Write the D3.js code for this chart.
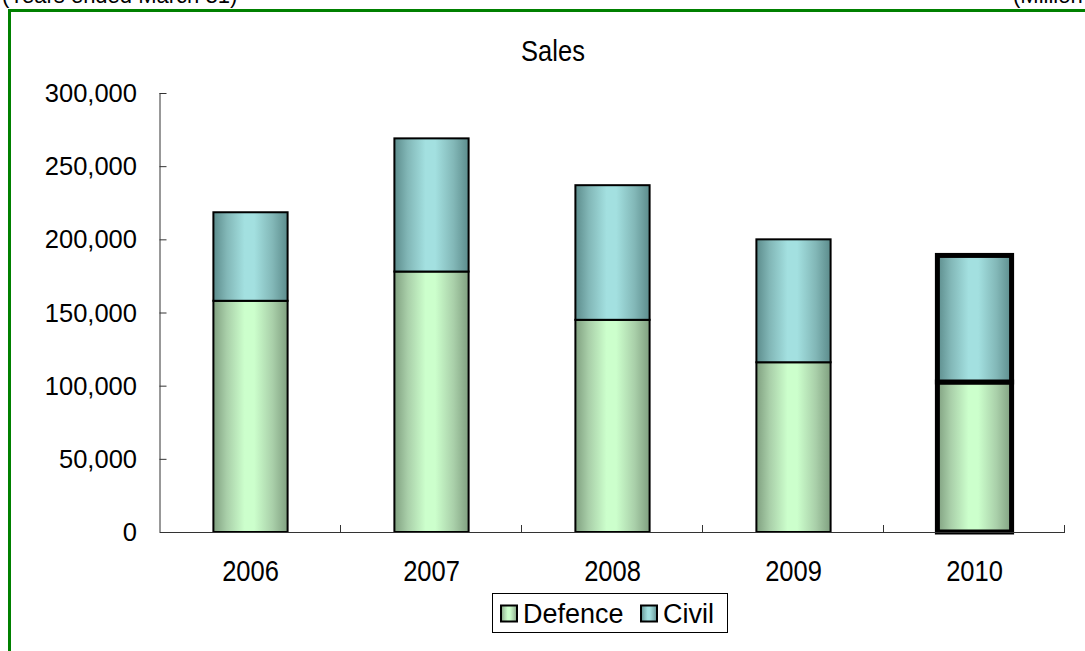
<!DOCTYPE html>
<html>
<head>
<meta charset="utf-8">
<script src="https://cdn.jsdelivr.net/npm/d3@7"></script>
<style>
  html, body { margin: 0; padding: 0; background: #fff; }
  svg { display: block; }
  text { font-family: "Liberation Sans", Arial, sans-serif; fill: #000; }
</style>
</head>
<body>
<svg id="chart" width="1085" height="651"></svg>
<script>
// Fiscal years and sales split (million yen)
const years = ["2006", "2007", "2008", "2009", "2010"];
const defence = [158000, 178000, 145000, 116000, 102500];
const civil = [60500, 91000, 92000, 84000, 86500];
const yTicks = [0, 50000, 100000, 150000, 200000, 250000, 300000];
const seriesNames = ["Defence", "Civil"];
const highlightYear = "2010";

const svg = d3.select("#chart");

// Colour ramps for the cylinder-like bar shading
const defs = svg.append("defs");
function shade(id, dark, mid, light) {
  const g = defs.append("linearGradient").attr("id", id)
    .attr("x1", "0%").attr("x2", "100%").attr("y1", "0%").attr("y2", "0%");
  [[0, dark], [0.18, mid], [0.42, light], [0.55, light], [0.8, mid], [1, dark]]
    .forEach(([o, c]) => g.append("stop").attr("offset", o).attr("stop-color", c));
}
shade("gDef", "#80a080", "#a9cfa9", "#ccffcc");
shade("gCiv", "#5c8c8c", "#82b7b7", "#a3e0e0");
const fills = { Defence: "url(#gDef)", Civil: "url(#gCiv)" };

// Headers above the frame
svg.append("text").attr("x", 2).attr("y", 3).style("font-size", "22px")
  .text("(Years ended March 31)");
svg.append("text").attr("x", 1013).attr("y", 3).style("font-size", "22px")
  .text("(Million yen)");

// Green outer frame
svg.append("rect").attr("x", 9.5).attr("y", 10.5).attr("width", 1200).attr("height", 800)
  .attr("fill", "none").attr("stroke", "#008000").attr("stroke-width", 3);

// Plot geometry
const x0 = 160, x1 = 1065, yTop = 93, yBot = 532;
const x = d3.scaleBand().domain(years).range([x0, x1]).padding(0);
const y = d3.scaleLinear().domain([0, 300000]).range([yBot, yTop]);
const barW = x.bandwidth() * 0.41;

// Text drawn slightly tall, as in the chart's stretched layout
function tallText(g, tx, ty, str, size, sy) {
  return g.append("text")
    .attr("transform", `translate(${tx},${ty}) scale(1,${sy})`)
    .attr("text-anchor", "middle").style("font-size", size + "px").text(str);
}

// Title
tallText(svg, 553, 61, "Sales", 25.5, 1.15);

// Stacked data
const rows = years.map((yr, i) => ({ year: yr, Defence: defence[i], Civil: civil[i] }));
const stacked = d3.stack().keys(seriesNames)(rows);

const bars = svg.append("g");
stacked.forEach(layer => {
  bars.selectAll(null).data(layer).join("rect")
    .attr("x", d => x(d.data.year) + (x.bandwidth() - barW) / 2)
    .attr("y", d => y(d[1]))
    .attr("width", barW)
    .attr("height", d => y(d[0]) - y(d[1]))
    .attr("fill", fills[layer.key])
    .attr("stroke", "#000")
    .attr("stroke-width", d => d.data.year === highlightYear ? 5 : 2);
});

// Y axis: ticks point into the plot
const yAxis = d3.axisRight(y).tickValues(yTicks).tickSize(7).tickFormat("");
const gy = svg.append("g").attr("transform", `translate(${x0 - 0.5},0)`).call(yAxis);
gy.select(".domain").attr("stroke", "#333").attr("d", `M0.5,${yTop}V${yBot}`);
gy.selectAll(".tick line").attr("stroke", "#333");
svg.append("g").selectAll("text").data(yTicks).join("text")
  .attr("x", 137).attr("y", d => y(d) + 9)
  .attr("text-anchor", "end").style("font-size", "25.5px")
  .text(d => d3.format(",")(d));

// X axis: ticks at category boundaries, pointing up
const bounds = years.map(yr => x(yr)).concat([x1]);
const gx = svg.append("g");
gx.append("line").attr("x1", x0).attr("x2", x1).attr("y1", yBot + 0.5).attr("y2", yBot + 0.5)
  .attr("stroke", "#333");
gx.selectAll(".tk").data(bounds.slice(1)).join("line")
  .attr("x1", d => d - 0.5).attr("x2", d => d - 0.5)
  .attr("y1", yBot).attr("y2", yBot - 7).attr("stroke", "#333");
years.forEach(yr => tallText(gx, x(yr) + x.bandwidth() / 2, 581, yr, 25.5, 1.16));

// Legend
const lg = svg.append("g");
lg.append("rect").attr("x", 492.5).attr("y", 593.5).attr("width", 235).attr("height", 39)
  .attr("fill", "#fff").attr("stroke", "#000").attr("stroke-width", 1);
const legendItems = [
  { name: "Defence", mx: 500, tx: 523 },
  { name: "Civil", mx: 640, tx: 663 }
];
legendItems.forEach(it => {
  lg.append("rect").attr("x", it.mx + 1).attr("y", 605.5).attr("width", 16).attr("height", 16)
    .attr("fill", fills[it.name]).attr("stroke", "#000").attr("stroke-width", 2);
  lg.append("text").attr("x", it.tx).attr("y", 623).style("font-size", "27px").text(it.name);
});
</script>
</body>
</html>
